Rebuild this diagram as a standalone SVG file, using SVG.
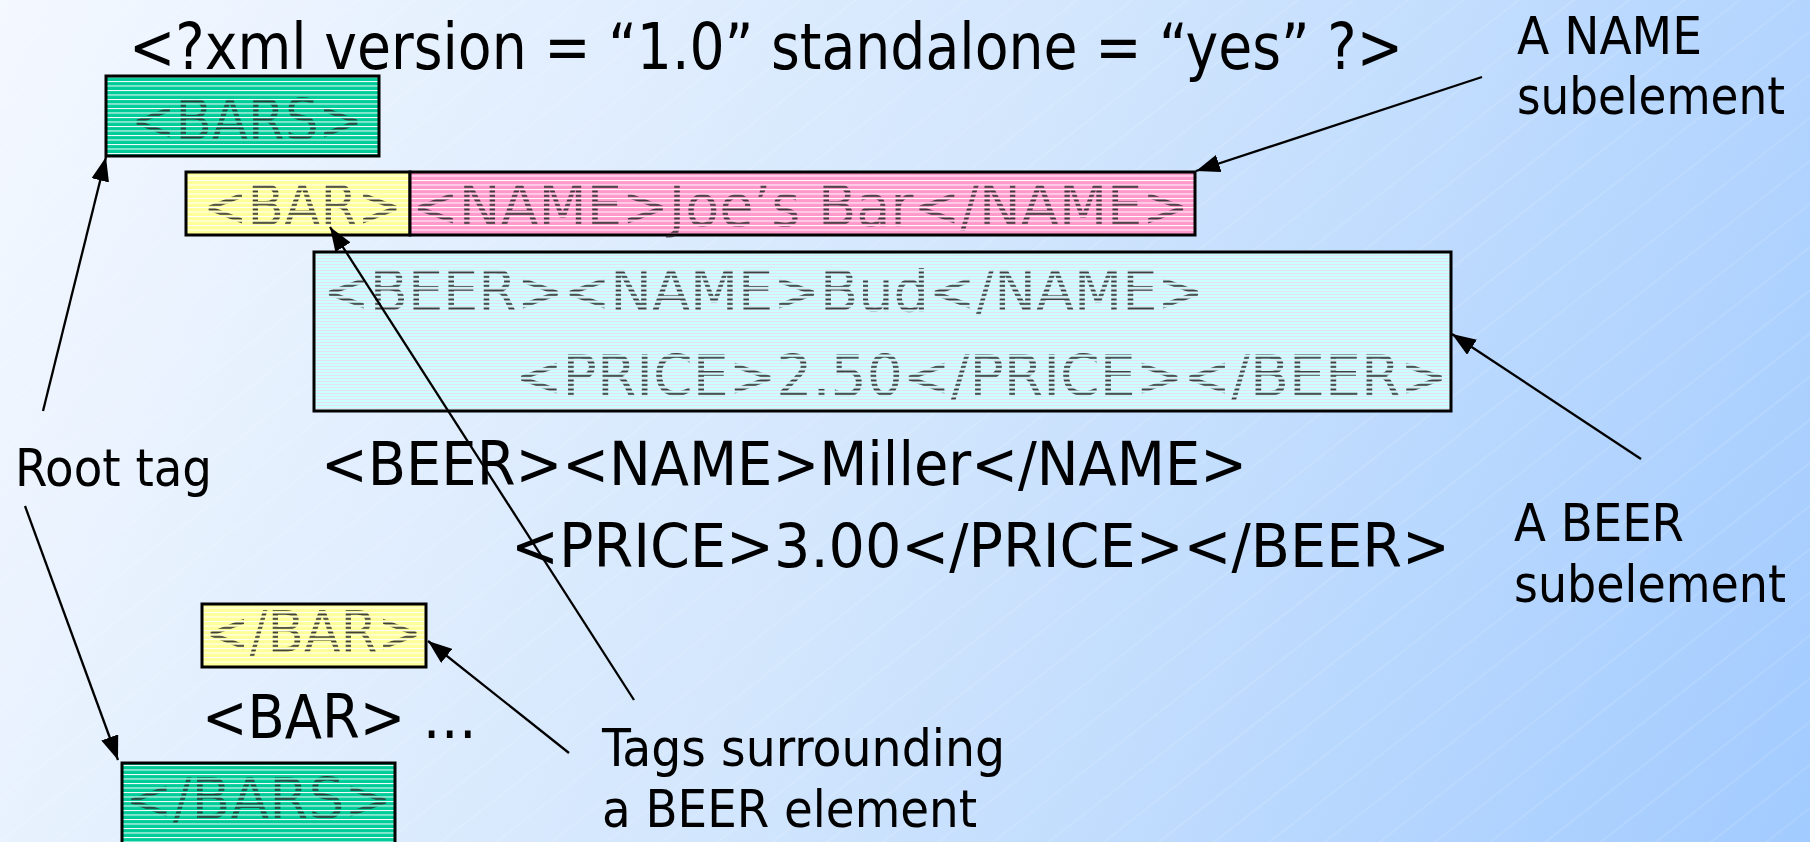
<svg xmlns="http://www.w3.org/2000/svg" width="1810" height="842" viewBox="0 0 1810 842">
<defs>
<linearGradient id="bg" x1="0" y1="0" x2="1810" y2="842" gradientUnits="userSpaceOnUse">
<stop offset="0" stop-color="#F4F8FF"/>
<stop offset="0.5" stop-color="#D2E6FD"/>
<stop offset="1" stop-color="#A2CBFF"/>
</linearGradient>
<pattern id="diag" width="34" height="34" patternUnits="userSpaceOnUse" patternTransform="rotate(-38)">
<line x1="0" y1="17" x2="34" y2="17" stroke="#FFFFFF" stroke-width="1" stroke-opacity="0.2"/>
</pattern>
<pattern id="pGreen" width="10" height="4.5" patternUnits="userSpaceOnUse">
<rect width="10" height="4.5" fill="#00CC99"/><rect width="10" height="1" fill="#FFFFFF"/>
</pattern>
<pattern id="pYellow" width="10" height="4.5" patternUnits="userSpaceOnUse">
<rect width="10" height="4.5" fill="#FFFF99"/><rect width="10" height="1" fill="#FFFFFF"/>
</pattern>
<pattern id="pPink" width="10" height="4.5" patternUnits="userSpaceOnUse">
<rect width="10" height="4.5" fill="#FF99CC"/><rect width="10" height="1" fill="#FFFFFF"/>
</pattern>
<pattern id="pCyan" width="10" height="3" patternUnits="userSpaceOnUse">
<rect width="10" height="3" fill="#CCFFFF"/><rect width="10" height="1" fill="#E6E0F0"/>
</pattern>
<pattern id="pText" width="10" height="4.5" patternUnits="userSpaceOnUse">
<rect y="1.5" width="10" height="1.8" fill="#2E2E2E"/>
</pattern>
<marker id="ah" viewBox="0 0 24 18" refX="24" refY="9" markerWidth="24" markerHeight="18" markerUnits="userSpaceOnUse" orient="auto">
<path d="M0,0 L24,9 L0,18 Z" fill="#000000"/>
</marker>
</defs>
<style>
.t{font-family:"DejaVu Sans Condensed","DejaVu Sans","Liberation Sans",sans-serif;font-stretch:condensed;fill:#000000;}
.big{font-size:61px;}
.ttl{font-size:64px;}
.lab{font-size:51px;}
.bt{font-family:"DejaVu Sans Condensed","DejaVu Sans","Liberation Sans",sans-serif;font-stretch:condensed;font-size:57px;fill:url(#pText);}
.box{stroke:#000000;stroke-width:3;}
.conn line{stroke:#000000;stroke-width:2.3;fill:none;marker-end:url(#ah);}
</style>
<rect width="1810" height="842" fill="url(#bg)"/>
<rect width="1810" height="842" fill="url(#diag)"/>

<g id="title">
<text class="t ttl" x="129" y="69" textLength="1274" lengthAdjust="spacingAndGlyphs">&lt;?xml version = “1.0” standalone = “yes” ?&gt;</text>
</g>

<g id="bars-open">
<rect class="box" x="106" y="76" width="273" height="80" fill="url(#pGreen)"/>
<text class="bt" x="131" y="140" textLength="232" lengthAdjust="spacingAndGlyphs">&lt;BARS&gt;</text>
</g>

<g id="bar-open">
<rect class="box" x="186" y="172" width="224" height="63" fill="url(#pYellow)"/>
<text class="bt" x="203" y="226" textLength="199" lengthAdjust="spacingAndGlyphs">&lt;BAR&gt;</text>
</g>

<g id="name-joe">
<rect class="box" x="410" y="172" width="785" height="63" fill="url(#pPink)"/>
<text class="bt" x="412" y="226" textLength="777" lengthAdjust="spacingAndGlyphs">&lt;NAME&gt;Joe’s Bar&lt;/NAME&gt;</text>
</g>

<g id="beer-bud">
<rect class="box" x="314" y="252" width="1137" height="159" fill="url(#pCyan)"/>
<text class="bt" x="323" y="311" textLength="881" lengthAdjust="spacingAndGlyphs">&lt;BEER&gt;&lt;NAME&gt;Bud&lt;/NAME&gt;</text>
<text class="bt" x="515" y="396" textLength="933" lengthAdjust="spacingAndGlyphs">&lt;PRICE&gt;2.50&lt;/PRICE&gt;&lt;/BEER&gt;</text>
</g>

<g id="beer-miller">
<text class="t big" x="321" y="485" textLength="926" lengthAdjust="spacingAndGlyphs">&lt;BEER&gt;&lt;NAME&gt;Miller&lt;/NAME&gt;</text>
<text class="t big" x="511" y="567" textLength="939" lengthAdjust="spacingAndGlyphs">&lt;PRICE&gt;3.00&lt;/PRICE&gt;&lt;/BEER&gt;</text>
</g>

<g id="bar-close">
<rect class="box" x="202" y="604" width="224" height="63" fill="url(#pYellow)"/>
<text class="bt" x="205" y="652" textLength="217" lengthAdjust="spacingAndGlyphs">&lt;/BAR&gt;</text>
</g>

<g id="bar-next">
<text class="t big" x="202" y="738" textLength="275" lengthAdjust="spacingAndGlyphs">&lt;BAR&gt; …</text>
</g>

<g id="bars-close">
<rect class="box" x="122" y="763" width="273" height="90" fill="url(#pGreen)"/>
<text class="bt" x="125" y="819" textLength="267" lengthAdjust="spacingAndGlyphs">&lt;/BARS&gt;</text>
</g>

<g id="root-tag">
<text class="t lab" x="15" y="486" textLength="197" lengthAdjust="spacingAndGlyphs">Root tag</text>
</g>

<g id="name-label">
<text class="t lab" x="1517" y="54" textLength="185" lengthAdjust="spacingAndGlyphs">A NAME</text>
<text class="t lab" x="1517" y="114" textLength="268" lengthAdjust="spacingAndGlyphs">subelement</text>
</g>

<g id="beer-label">
<text class="t lab" x="1514" y="541" textLength="170" lengthAdjust="spacingAndGlyphs">A BEER</text>
<text class="t lab" x="1514" y="602" textLength="272" lengthAdjust="spacingAndGlyphs">subelement</text>
</g>

<g id="tags-label">
<text class="t lab" x="602" y="766" textLength="403" lengthAdjust="spacingAndGlyphs">Tags surrounding</text>
<text class="t lab" x="602" y="827" textLength="375" lengthAdjust="spacingAndGlyphs">a BEER element</text>
</g>

<g id="connectors" class="conn">
<line x1="43" y1="411" x2="106" y2="157"/>
<line x1="25" y1="506" x2="118" y2="760"/>
<line x1="1482" y1="77" x2="1196" y2="171"/>
<line x1="1641" y1="459" x2="1452" y2="334"/>
<line x1="634" y1="700" x2="330" y2="227"/>
<line x1="569" y1="753" x2="428" y2="641"/>
</g>
</svg>
